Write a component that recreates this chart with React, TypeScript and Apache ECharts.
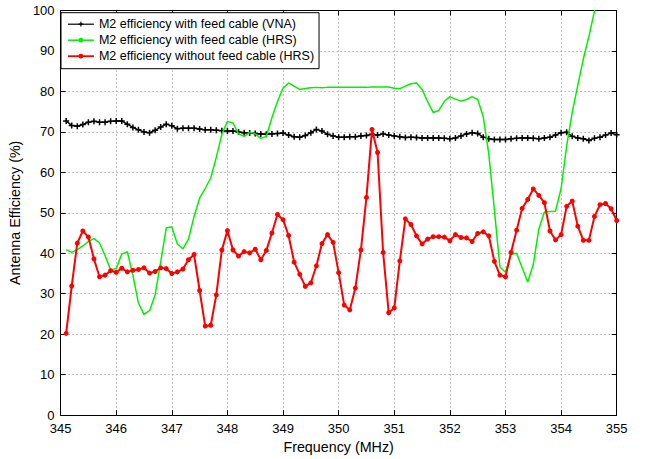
import React, { useEffect, useRef } from "react";
import * as echarts from "echarts";

// Measurement sweep (MHz), 0.1 MHz steps
const FREQ = [
  345.1, 345.2, 345.3, 345.4, 345.5, 345.6, 345.7, 345.8, 345.9, 346.0,
  346.1, 346.2, 346.3, 346.4, 346.5, 346.6, 346.7, 346.8, 346.9, 347.0,
  347.1, 347.2, 347.3, 347.4, 347.5, 347.6, 347.7, 347.8, 347.9, 348.0,
  348.1, 348.2, 348.3, 348.4, 348.5, 348.6, 348.7, 348.8, 348.9, 349.0,
  349.1, 349.2, 349.3, 349.4, 349.5, 349.6, 349.7, 349.8, 349.9, 350.0,
  350.1, 350.2, 350.3, 350.4, 350.5, 350.6, 350.7, 350.8, 350.9, 351.0,
  351.1, 351.2, 351.3, 351.4, 351.5, 351.6, 351.7, 351.8, 351.9, 352.0,
  352.1, 352.2, 352.3, 352.4, 352.5, 352.6, 352.7, 352.8, 352.9, 353.0,
  353.1, 353.2, 353.3, 353.4, 353.5, 353.6, 353.7, 353.8, 353.9, 354.0,
  354.1, 354.2, 354.3, 354.4, 354.5, 354.6, 354.7, 354.8, 354.9, 355.0,
];

// M2 efficiency with feed cable (VNA)
const VNA = [
  72.7, 71.6, 71.4, 71.8, 72.4, 72.6, 72.4, 72.4, 72.6, 72.7,
  72.7, 71.9, 71.1, 70.5, 70.0, 69.8, 70.4, 71.2, 71.9, 71.5,
  70.8, 70.9, 70.9, 70.9, 70.7, 70.5, 70.5, 70.4, 70.3, 70.2,
  70.2, 70.0, 69.8, 69.7, 69.6, 69.5, 69.4, 69.5, 69.6, 69.7,
  69.2, 68.8, 68.7, 69.1, 69.8, 70.6, 70.2, 69.4, 69.0, 68.7,
  68.7, 68.8, 68.8, 69.0, 69.1, 69.4, 69.2, 69.5, 69.2, 69.0,
  68.8, 68.6, 68.7, 68.6, 68.5, 68.5, 68.5, 68.5, 68.4, 68.3,
  68.5, 69.0, 69.5, 69.8, 69.6, 68.7, 68.3, 68.1, 68.1, 68.1,
  68.3, 68.4, 68.5, 68.5, 68.4, 68.3, 68.5, 68.7, 69.2, 69.8,
  69.9, 68.9, 68.5, 68.3, 67.9, 68.4, 68.7, 69.2, 69.7, 69.3,
];

// M2 efficiency with feed cable (HRS) — leaves the top of the plot after 354.6
const HRS_WITH = [
  40.9, 40.2, 40.9, 41.8, 42.9, 43.6, 42.6, 39.4, 35.9, 36.2,
  39.8, 40.4, 34.6, 27.7, 24.9, 25.8, 29.7, 37.8, 46.3, 46.5,
  42.3, 41.1, 43.5, 49.1, 53.6, 56.0, 58.6, 63.7, 69.4, 72.6,
  72.2, 69.5, 68.9, 69.9, 69.5, 68.4, 68.9, 73.5, 77.5, 80.8,
  82.1, 81.3, 80.5, 80.7, 80.9, 81.0, 80.9, 81.0, 81.0, 81.0,
  81.0, 81.0, 81.0, 81.0, 81.0, 81.1, 81.1, 81.1, 81.1, 80.8,
  80.7, 81.3, 81.9, 82.1, 80.5, 77.5, 74.8, 75.3, 77.5, 78.7,
  78.1, 77.6, 78.0, 78.7, 78.0, 73.8, 64.5, 50.8, 36.6, 35.3,
  39.7, 40.0, 36.4, 32.9, 37.2, 46.0, 50.2, 50.3, 50.4, 56.0,
  66.5, 74.8, 81.5, 88.0, 93.6, 99.8, 106.0,
];

// M2 efficiency without feed cable (HRS)
const HRS_WITHOUT = [
  20.2, 31.9, 42.5, 45.5, 44.0, 38.6, 34.2, 34.6, 35.7, 35.3,
  36.3, 35.4, 35.8, 36.0, 36.4, 35.1, 35.5, 36.4, 36.2, 35.0,
  35.4, 36.1, 38.4, 39.7, 30.8, 22.0, 22.2, 29.7, 40.8, 45.6,
  40.8, 39.3, 40.4, 40.1, 41.0, 38.4, 40.7, 45.0, 49.6, 48.3,
  44.4, 37.8, 34.8, 31.8, 32.7, 36.9, 42.4, 44.6, 42.7, 35.2,
  27.2, 26.0, 31.4, 40.8, 53.8, 70.6, 64.9, 40.2, 25.3, 26.5,
  38.1, 48.5, 47.1, 44.3, 42.3, 43.5, 44.1, 44.1, 44.0, 43.1,
  44.6, 43.9, 43.8, 42.9, 44.9, 45.3, 44.3, 38.0, 34.6, 34.2,
  40.2, 45.7, 51.1, 53.3, 55.9, 54.3, 52.5, 45.5, 43.3, 44.6,
  51.6, 52.9, 46.7, 43.2, 43.2, 49.1, 52.0, 52.3, 51.0, 48.1,
];

const SERIES_NAMES = [
  "M2 efficiency with feed cable (VNA)",
  "M2 efficiency with feed cable (HRS)",
  "M2 efficiency without feed cable (HRS)",
];

const X_MIN = 345;
const X_MAX = 355;
const Y_MIN = 0;
const Y_MAX = 100;

const FONT = '"Liberation Sans", Arial, Helvetica, sans-serif';
const PLUS = "path://M3,0H5V3H8V5H5V8H3V5H0V3H3Z";

export default function App() {
  const ref = useRef<HTMLDivElement>(null);

  useEffect(() => {
    if (!ref.current) return;
    const chart = echarts.init(ref.current, undefined, { renderer: "svg" });

    const pair = (vals: number[]) => vals.map((v, i) => [FREQ[i], v]);

    const gridLine = { show: true, lineStyle: { color: "#8a8a8a", type: [1, 3] as any, width: 1 } };
    const axisLine = { show: true, onZero: false, lineStyle: { color: "#000", width: 1 } };
    const tick = { show: true, inside: true, length: 5, lineStyle: { color: "#000", width: 1 } };
    const label = { color: "#000", fontSize: 13, fontFamily: FONT };
    const nameStyle = { color: "#000", fontSize: 14.3, fontFamily: FONT };

    chart.setOption({
      animation: false,
      backgroundColor: "#fff",
      textStyle: { fontFamily: FONT },
      grid: { left: 59, right: 28.3, top: 10.5, bottom: 36.5, containLabel: false },
      legend: {
        orient: "vertical",
        left: 61,
        top: 12.7,
        data: [
          { name: SERIES_NAMES[0], lineStyle: { width: 1.2 } },
          { name: SERIES_NAMES[1], lineStyle: { width: 1.5 } },
          { name: SERIES_NAMES[2], lineStyle: { width: 1.8 } },
        ],
        itemWidth: 26,
        itemHeight: 6,
        itemGap: 3,
        padding: [5, 5, 6, 6],
        borderColor: "#000",
        borderWidth: 1,
        backgroundColor: "#fff",
        selectedMode: false,
        textStyle: { color: "#000", fontSize: 12.5, fontFamily: FONT },
      },
      xAxis: [
        {
          type: "value",
          min: X_MIN,
          max: X_MAX,
          interval: 1,
          position: "bottom",
          axisLine,
          axisTick: tick,
          axisLabel: { ...label, margin: 7 },
          splitLine: gridLine,
          name: "Frequency (MHz)",
          nameLocation: "middle",
          nameGap: 21,
          nameTextStyle: nameStyle,
        },
        {
          type: "value",
          min: X_MIN,
          max: X_MAX,
          interval: 1,
          position: "top",
          axisLine,
          axisTick: tick,
          axisLabel: { show: false },
          splitLine: { show: false },
        },
      ],
      yAxis: [
        {
          type: "value",
          min: Y_MIN,
          max: Y_MAX,
          interval: 10,
          position: "left",
          axisLine,
          axisTick: tick,
          axisLabel: { ...label, margin: 6 },
          splitLine: gridLine,
          name: "Antenna Efficiency (%)",
          nameLocation: "middle",
          nameGap: 31,
          nameTextStyle: nameStyle,
        },
        {
          type: "value",
          min: Y_MIN,
          max: Y_MAX,
          interval: 10,
          position: "right",
          axisLine,
          axisTick: tick,
          axisLabel: { show: false },
          splitLine: { show: false },
        },
      ],
      series: [
        {
          name: SERIES_NAMES[0],
          type: "line",
          data: pair(VNA),
          symbol: PLUS,
          symbolSize: 6,
          showAllSymbol: true,
          lineStyle: { color: "#000", width: 1.4 },
          itemStyle: { color: "#000" },
          clip: true,
          z: 2,
        },
        {
          name: SERIES_NAMES[1],
          type: "line",
          data: pair(HRS_WITH),
          symbol: "none",
          lineStyle: { color: "#00f000", width: 1.5 },
          itemStyle: { color: "#00f000" },
          clip: true,
          z: 3,
        },
        {
          name: SERIES_NAMES[2],
          type: "line",
          data: pair(HRS_WITHOUT),
          symbol: "circle",
          symbolSize: 5,
          showAllSymbol: true,
          lineStyle: { color: "#ff0000", width: 2 },
          itemStyle: { color: "#ff0000" },
          clip: true,
          z: 4,
        },
      ],
    });

    return () => chart.dispose();
  }, []);

  return (
    <div
      ref={ref}
      style={{ position: "fixed", left: 0, top: 0, width: 645, height: 459, background: "#fff" }}
    />
  );
}
